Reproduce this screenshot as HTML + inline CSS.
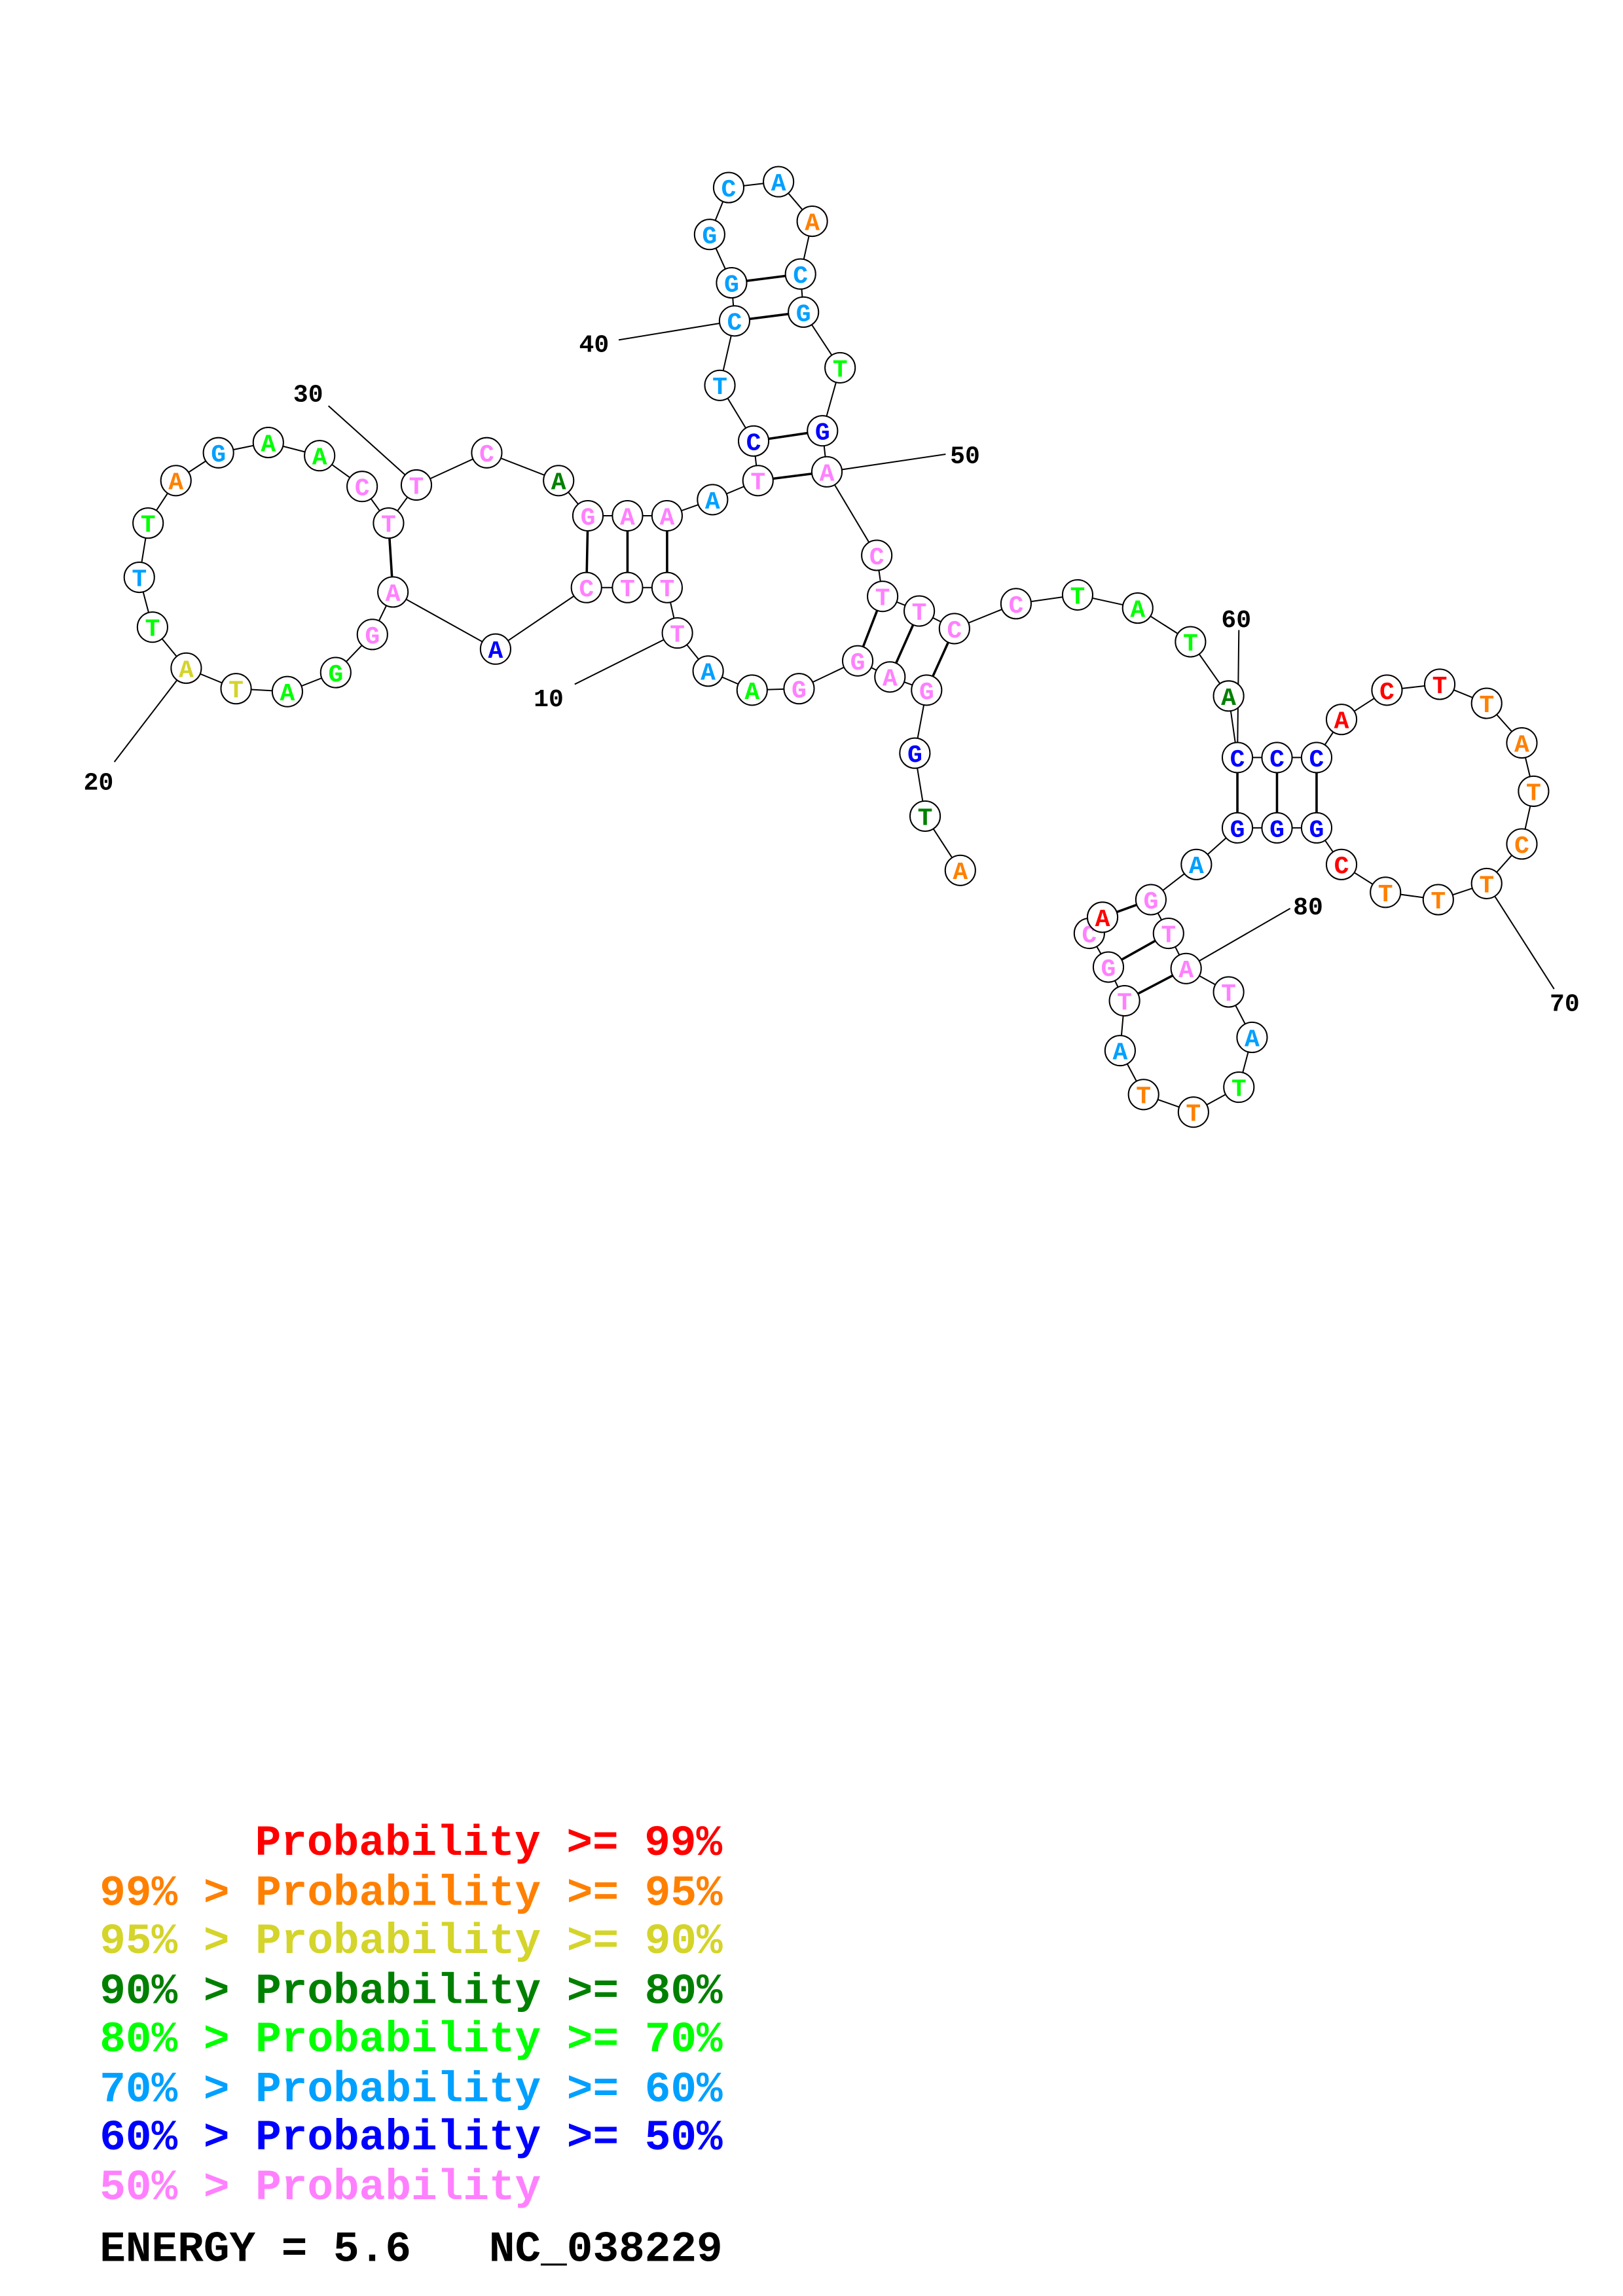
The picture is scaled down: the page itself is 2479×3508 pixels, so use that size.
<!DOCTYPE html>
<html><head><meta charset="utf-8"><style>
html,body{margin:0;padding:0;background:#fff}
svg{display:block}
.n text{font-family:"Liberation Mono",monospace;font-weight:bold;font-size:17px;text-anchor:middle}
.lb{font-family:"Liberation Mono",monospace;font-weight:bold;font-size:17px;fill:#000}
.lg{font-family:"Liberation Mono",monospace;font-weight:bold;font-size:29.5px;white-space:pre}
</style></head><body>
<svg width="2479" height="3508" viewBox="0 0 1107 1567" preserveAspectRatio="none" xmlns="http://www.w3.org/2000/svg">
<rect width="1107" height="1567" fill="#fff"/>
<g stroke="#000" stroke-width="0.9" fill="none">
<polyline points="655,594 631,557 624,514 632,471 607,462 585,451 545,470 513,471 483,458 462,432 455,401 428,401 400,401 338,443 268,404 254,433 229,459 196,472 161,470 127,456 104,428 95,394 101,357 120,328 149,309 183,302 218,311 247,332 265,357 284,331 332,309 381,328 401,352 428,352 455,352 486,341 517,328 514,301 491,263 501,219 499,193 484,160 497,128 531,124 554,151 546,187 548,213 573,251 561,294 564,322 598,379 602,407 627,417 651,429 693,412 735,406 776,415 812,438 838,475 844,517 871,517 898,517 915,491 946,471 982,467 1014,480 1038,507 1046,540 1038,576 1014,603 981,614 945,609 915,590 898,565 871,565 844,565 816,590 785,614 797,637 809,661 838,677 854,708 845,742 814,759 780,747 764,717 767,683 756,660 743,637 752,626"/>
<line x1="392" y1="467" x2="462" y2="432"/>
<line x1="78" y1="520" x2="127" y2="456"/>
<line x1="224" y1="277" x2="284" y2="331"/>
<line x1="422" y1="232" x2="501" y2="219"/>
<line x1="564" y1="322" x2="645" y2="310"/>
<line x1="845" y1="430" x2="844" y2="517"/>
<line x1="1014" y1="603" x2="1060" y2="675"/>
<line x1="809" y1="661" x2="880" y2="620"/>
</g>
<g stroke="#000" stroke-width="1.6">
<line x1="401" y1="352" x2="400" y2="401"/>
<line x1="428" y1="352" x2="428" y2="401"/>
<line x1="455" y1="352" x2="455" y2="401"/>
<line x1="265" y1="357" x2="268" y2="404"/>
<line x1="517" y1="328" x2="564" y2="322"/>
<line x1="514" y1="301" x2="561" y2="294"/>
<line x1="501" y1="219" x2="548" y2="213"/>
<line x1="499" y1="193" x2="546" y2="187"/>
<line x1="602" y1="407" x2="585" y2="451"/>
<line x1="627" y1="417" x2="607" y2="462"/>
<line x1="651" y1="429" x2="632" y2="471"/>
<line x1="844" y1="517" x2="844" y2="565"/>
<line x1="871" y1="517" x2="871" y2="565"/>
<line x1="898" y1="517" x2="898" y2="565"/>
<line x1="752" y1="626" x2="785" y2="614"/>
<line x1="756" y1="660" x2="797" y2="637"/>
<line x1="767" y1="683" x2="809" y2="661"/>
</g>
<g class="n" stroke="#000" stroke-width="0.9">
<g fill="#fff">
<circle cx="655" cy="594" r="10.3"/><circle cx="631" cy="557" r="10.3"/><circle cx="624" cy="514" r="10.3"/><circle cx="632" cy="471" r="10.3"/><circle cx="607" cy="462" r="10.3"/><circle cx="585" cy="451" r="10.3"/><circle cx="545" cy="470" r="10.3"/><circle cx="513" cy="471" r="10.3"/><circle cx="483" cy="458" r="10.3"/><circle cx="462" cy="432" r="10.3"/><circle cx="455" cy="401" r="10.3"/><circle cx="428" cy="401" r="10.3"/><circle cx="400" cy="401" r="10.3"/><circle cx="338" cy="443" r="10.3"/><circle cx="268" cy="404" r="10.3"/><circle cx="254" cy="433" r="10.3"/><circle cx="229" cy="459" r="10.3"/><circle cx="196" cy="472" r="10.3"/><circle cx="161" cy="470" r="10.3"/><circle cx="127" cy="456" r="10.3"/><circle cx="104" cy="428" r="10.3"/><circle cx="95" cy="394" r="10.3"/><circle cx="101" cy="357" r="10.3"/><circle cx="120" cy="328" r="10.3"/><circle cx="149" cy="309" r="10.3"/><circle cx="183" cy="302" r="10.3"/><circle cx="218" cy="311" r="10.3"/><circle cx="247" cy="332" r="10.3"/><circle cx="265" cy="357" r="10.3"/><circle cx="284" cy="331" r="10.3"/><circle cx="332" cy="309" r="10.3"/><circle cx="381" cy="328" r="10.3"/><circle cx="401" cy="352" r="10.3"/><circle cx="428" cy="352" r="10.3"/><circle cx="455" cy="352" r="10.3"/><circle cx="486" cy="341" r="10.3"/><circle cx="517" cy="328" r="10.3"/><circle cx="514" cy="301" r="10.3"/><circle cx="491" cy="263" r="10.3"/><circle cx="501" cy="219" r="10.3"/><circle cx="499" cy="193" r="10.3"/><circle cx="484" cy="160" r="10.3"/><circle cx="497" cy="128" r="10.3"/><circle cx="531" cy="124" r="10.3"/><circle cx="554" cy="151" r="10.3"/><circle cx="546" cy="187" r="10.3"/><circle cx="548" cy="213" r="10.3"/><circle cx="573" cy="251" r="10.3"/><circle cx="561" cy="294" r="10.3"/><circle cx="564" cy="322" r="10.3"/><circle cx="598" cy="379" r="10.3"/><circle cx="602" cy="407" r="10.3"/><circle cx="627" cy="417" r="10.3"/><circle cx="651" cy="429" r="10.3"/><circle cx="693" cy="412" r="10.3"/><circle cx="735" cy="406" r="10.3"/><circle cx="776" cy="415" r="10.3"/><circle cx="812" cy="438" r="10.3"/><circle cx="838" cy="475" r="10.3"/><circle cx="844" cy="517" r="10.3"/><circle cx="871" cy="517" r="10.3"/><circle cx="898" cy="517" r="10.3"/><circle cx="915" cy="491" r="10.3"/><circle cx="946" cy="471" r="10.3"/><circle cx="982" cy="467" r="10.3"/><circle cx="1014" cy="480" r="10.3"/><circle cx="1038" cy="507" r="10.3"/><circle cx="1046" cy="540" r="10.3"/><circle cx="1038" cy="576" r="10.3"/><circle cx="1014" cy="603" r="10.3"/><circle cx="981" cy="614" r="10.3"/><circle cx="945" cy="609" r="10.3"/><circle cx="915" cy="590" r="10.3"/><circle cx="898" cy="565" r="10.3"/><circle cx="871" cy="565" r="10.3"/><circle cx="844" cy="565" r="10.3"/><circle cx="816" cy="590" r="10.3"/><circle cx="785" cy="614" r="10.3"/><circle cx="797" cy="637" r="10.3"/><circle cx="809" cy="661" r="10.3"/><circle cx="838" cy="677" r="10.3"/><circle cx="854" cy="708" r="10.3"/><circle cx="845" cy="742" r="10.3"/><circle cx="814" cy="759" r="10.3"/><circle cx="780" cy="747" r="10.3"/><circle cx="764" cy="717" r="10.3"/><circle cx="767" cy="683" r="10.3"/><circle cx="756" cy="660" r="10.3"/><circle cx="743" cy="637" r="10.3"/><circle cx="752" cy="626" r="10.3"/>
</g>
<g stroke="none">
<text x="655" y="600" fill="#ff8000">A</text>
<text x="631" y="563" fill="#008000">T</text>
<text x="624" y="520" fill="#0000ff">G</text>
<text x="632" y="477" fill="#ff80ff">G</text>
<text x="607" y="468" fill="#ff80ff">A</text>
<text x="585" y="457" fill="#ff80ff">G</text>
<text x="545" y="476" fill="#ff80ff">G</text>
<text x="513" y="477" fill="#00ff00">A</text>
<text x="483" y="464" fill="#00a0ff">A</text>
<text x="462" y="438" fill="#ff80ff">T</text>
<text x="455" y="407" fill="#ff80ff">T</text>
<text x="428" y="407" fill="#ff80ff">T</text>
<text x="400" y="407" fill="#ff80ff">C</text>
<text x="338" y="449" fill="#0000ff">A</text>
<text x="268" y="410" fill="#ff80ff">A</text>
<text x="254" y="439" fill="#ff80ff">G</text>
<text x="229" y="465" fill="#00ff00">G</text>
<text x="196" y="478" fill="#00ff00">A</text>
<text x="161" y="476" fill="#d4d42a">T</text>
<text x="127" y="462" fill="#d4d42a">A</text>
<text x="104" y="434" fill="#00ff00">T</text>
<text x="95" y="400" fill="#00a0ff">T</text>
<text x="101" y="363" fill="#00ff00">T</text>
<text x="120" y="334" fill="#ff8000">A</text>
<text x="149" y="315" fill="#00a0ff">G</text>
<text x="183" y="308" fill="#00ff00">A</text>
<text x="218" y="317" fill="#00ff00">A</text>
<text x="247" y="338" fill="#ff80ff">C</text>
<text x="265" y="363" fill="#ff80ff">T</text>
<text x="284" y="337" fill="#ff80ff">T</text>
<text x="332" y="315" fill="#ff80ff">C</text>
<text x="381" y="334" fill="#008000">A</text>
<text x="401" y="358" fill="#ff80ff">G</text>
<text x="428" y="358" fill="#ff80ff">A</text>
<text x="455" y="358" fill="#ff80ff">A</text>
<text x="486" y="347" fill="#00a0ff">A</text>
<text x="517" y="334" fill="#ff80ff">T</text>
<text x="514" y="307" fill="#0000ff">C</text>
<text x="491" y="269" fill="#00a0ff">T</text>
<text x="501" y="225" fill="#00a0ff">C</text>
<text x="499" y="199" fill="#00a0ff">G</text>
<text x="484" y="166" fill="#00a0ff">G</text>
<text x="497" y="134" fill="#00a0ff">C</text>
<text x="531" y="130" fill="#00a0ff">A</text>
<text x="554" y="157" fill="#ff8000">A</text>
<text x="546" y="193" fill="#00a0ff">C</text>
<text x="548" y="219" fill="#00a0ff">G</text>
<text x="573" y="257" fill="#00ff00">T</text>
<text x="561" y="300" fill="#0000ff">G</text>
<text x="564" y="328" fill="#ff80ff">A</text>
<text x="598" y="385" fill="#ff80ff">C</text>
<text x="602" y="413" fill="#ff80ff">T</text>
<text x="627" y="423" fill="#ff80ff">T</text>
<text x="651" y="435" fill="#ff80ff">C</text>
<text x="693" y="418" fill="#ff80ff">C</text>
<text x="735" y="412" fill="#00ff00">T</text>
<text x="776" y="421" fill="#00ff00">A</text>
<text x="812" y="444" fill="#00ff00">T</text>
<text x="838" y="481" fill="#008000">A</text>
<text x="844" y="523" fill="#0000ff">C</text>
<text x="871" y="523" fill="#0000ff">C</text>
<text x="898" y="523" fill="#0000ff">C</text>
<text x="915" y="497" fill="#ff0000">A</text>
<text x="946" y="477" fill="#ff0000">C</text>
<text x="982" y="473" fill="#ff0000">T</text>
<text x="1014" y="486" fill="#ff8000">T</text>
<text x="1038" y="513" fill="#ff8000">A</text>
<text x="1046" y="546" fill="#ff8000">T</text>
<text x="1038" y="582" fill="#ff8000">C</text>
<text x="1014" y="609" fill="#ff8000">T</text>
<text x="981" y="620" fill="#ff8000">T</text>
<text x="945" y="615" fill="#ff8000">T</text>
<text x="915" y="596" fill="#ff0000">C</text>
<text x="898" y="571" fill="#0000ff">G</text>
<text x="871" y="571" fill="#0000ff">G</text>
<text x="844" y="571" fill="#0000ff">G</text>
<text x="816" y="596" fill="#00a0ff">A</text>
<text x="785" y="620" fill="#ff80ff">G</text>
<text x="797" y="643" fill="#ff80ff">T</text>
<text x="809" y="667" fill="#ff80ff">A</text>
<text x="838" y="683" fill="#ff80ff">T</text>
<text x="854" y="714" fill="#00a0ff">A</text>
<text x="845" y="748" fill="#00ff00">T</text>
<text x="814" y="765" fill="#ff8000">T</text>
<text x="780" y="753" fill="#ff8000">T</text>
<text x="764" y="723" fill="#00a0ff">A</text>
<text x="767" y="689" fill="#ff80ff">T</text>
<text x="756" y="666" fill="#ff80ff">G</text>
<text x="743" y="643" fill="#ff80ff">C</text>
</g>
<circle cx="752" cy="626" r="10.3" fill="#fff"/>
<text x="752" y="632" fill="#ff0000" stroke="none">A</text>
</g>
<g class="lb">
<text x="364" y="482">10</text>
<text x="57" y="539">20</text>
<text x="200" y="274">30</text>
<text x="395" y="240">40</text>
<text x="648" y="316">50</text>
<text x="833" y="428">60</text>
<text x="1057" y="690">70</text>
<text x="882" y="624">80</text>
</g>
<g class="lg">
<text x="174" y="1266" fill="#ff0000">Probability &gt;= 99%</text>
<text x="68" y="1300" fill="#ff8000">99% &gt; Probability &gt;= 95%</text>
<text x="68" y="1333" fill="#d4d42a">95% &gt; Probability &gt;= 90%</text>
<text x="68" y="1367" fill="#008000">90% &gt; Probability &gt;= 80%</text>
<text x="68" y="1400" fill="#00ff00">80% &gt; Probability &gt;= 70%</text>
<text x="68" y="1434" fill="#00a0ff">70% &gt; Probability &gt;= 60%</text>
<text x="68" y="1467" fill="#0000ff">60% &gt; Probability &gt;= 50%</text>
<text x="68" y="1501" fill="#ff80ff">50% &gt; Probability</text>
<text x="68" y="1543" fill="#000">ENERGY = 5.6&#160;&#160;&#160;NC_038229</text>
</g>
</svg>
</body></html>
